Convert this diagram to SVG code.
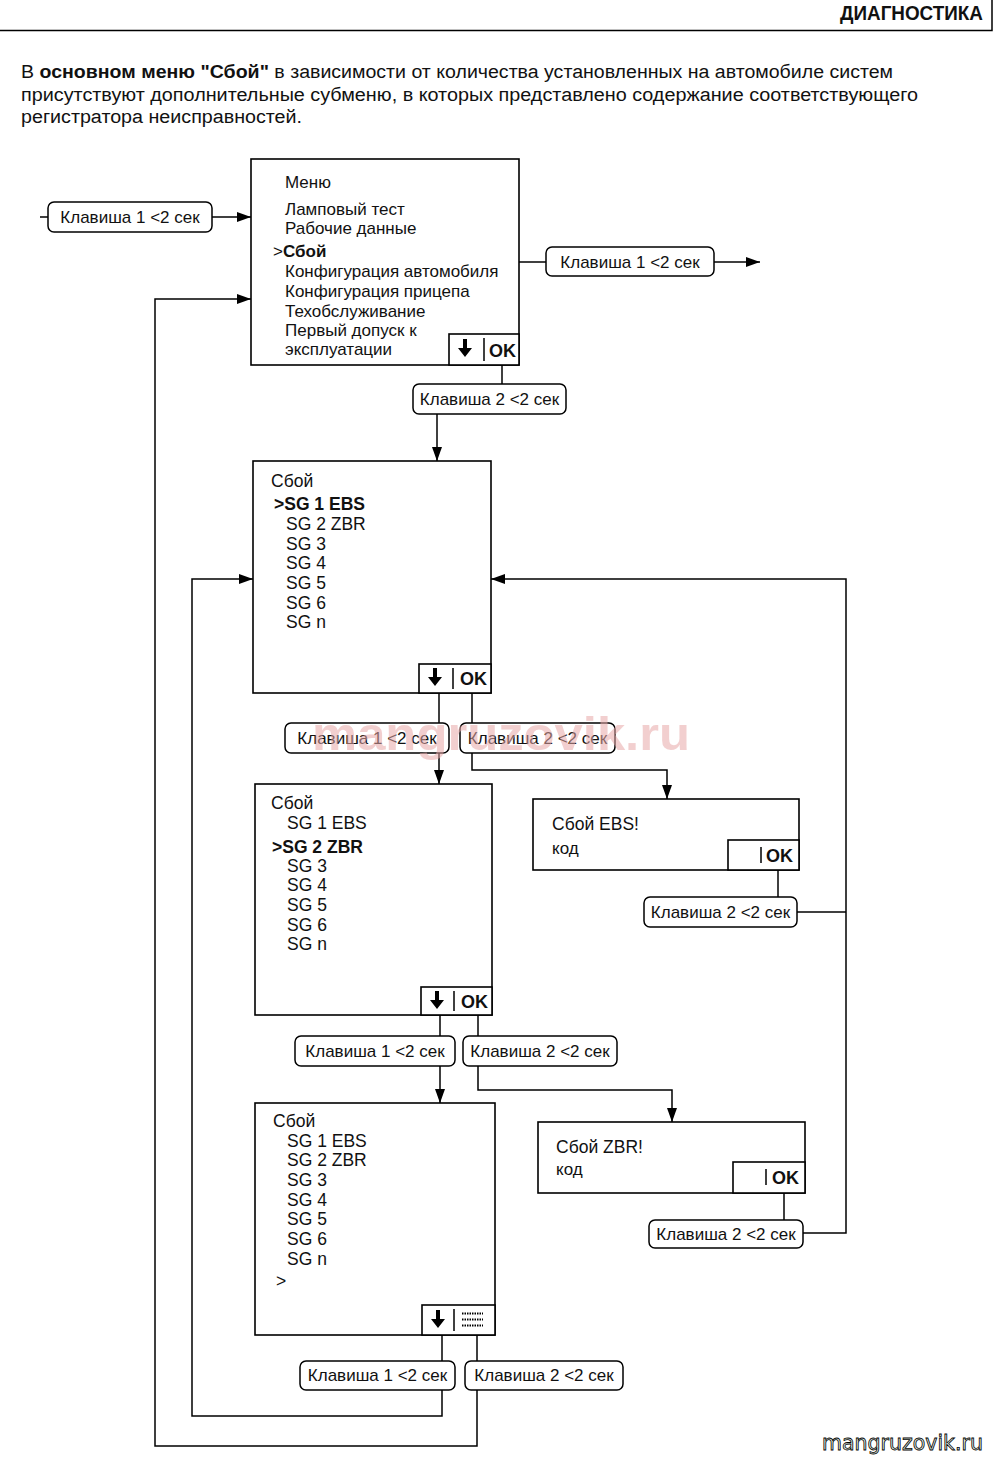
<svg xmlns="http://www.w3.org/2000/svg" width="1000" height="1464" viewBox="0 0 1000 1464">
<defs>
<marker id="ah" markerUnits="userSpaceOnUse" markerWidth="14" markerHeight="10" refX="14" refY="5" orient="auto">
<path d="M0,0 L14,5 L0,10 z" fill="#000"/>
</marker>
</defs>
<style>
text{font-family:"Liberation Sans",Arial,sans-serif;fill:#111}
.box{fill:#fff;stroke:#000;stroke-width:1.6}
.btn{fill:#fff;stroke:#000;stroke-width:1.5}
.bt{font-size:17px;text-anchor:middle}
.m{font-size:17px}
.sg{font-size:17.5px}
.b{font-weight:bold}
.ok{font-size:18px;font-weight:bold}
.ln{fill:none;stroke:#000;stroke-width:1.5}
.arw{fill:none;stroke:#000;stroke-width:1.5;marker-end:url(#ah)}
.ico{fill:#000}
</style>
<rect width="1000" height="1464" fill="#fff"/>

<g id="header">
<path d="M0,30.5 H992 V0" class="ln" stroke-width="2"/>
<text x="840" y="20" font-size="20" font-weight="bold" textLength="143" lengthAdjust="spacingAndGlyphs">ДИАГНОСТИКА</text>
</g>

<g id="intro" font-size="18">
<text x="21" y="78" font-size="18" textLength="872" lengthAdjust="spacingAndGlyphs">В <tspan font-weight="bold">основном меню "Сбой"</tspan> в зависимости от количества установленных на автомобиле систем</text>
<text x="21" y="101" font-size="18" textLength="897" lengthAdjust="spacingAndGlyphs">присутствуют дополнительные субменю, в которых представлено содержание соответствующего</text>
<text x="21" y="123" font-size="18" textLength="281" lengthAdjust="spacingAndGlyphs">регистратора неисправностей.</text>
</g>

<g id="connectors">
<path class="ln" d="M40,217 H48"/>
<path class="arw" d="M212,217 H251"/>
<path class="ln" d="M519,262 H546"/>
<path class="arw" d="M714,262 H760"/>
<path class="ln" d="M502,365 V384"/>
<path class="arw" d="M437,414 V461"/>
<path class="ln" d="M439,693 V723"/>
<path class="arw" d="M439,753 V784"/>
<path class="ln" d="M472,693 V723"/>
<path class="arw" d="M472,753 V770 H667 V799"/>
<path class="ln" d="M778,870 V897"/>
<path class="ln" d="M797,912 H846"/>
<path class="ln" d="M440,1015 V1036"/>
<path class="arw" d="M440,1066 V1103"/>
<path class="ln" d="M478,1015 V1036"/>
<path class="arw" d="M478,1066 V1090 H672 V1122"/>
<path class="ln" d="M784,1193 V1220"/>
<path class="arw" d="M803,1233 H846 V579 H491"/>
<path class="ln" d="M442,1335 V1361"/>
<path class="arw" d="M442,1390 V1416 H192 V579 H253"/>
<path class="ln" d="M477,1335 V1361"/>
<path class="arw" d="M477,1390 V1446 H155 V299 H251"/>
</g>

<g id="btn-in">
<rect class="btn" x="48" y="202" width="164" height="30" rx="6"/>
<text class="bt" x="130" y="223">Клавиша 1 &lt;2 сек</text>
</g>

<g id="main-menu">
<rect class="box" x="251" y="159" width="268" height="206"/>
<text class="m" x="285" y="188">Меню</text>
<text class="m" x="285" y="215">Ламповый тест</text>
<text class="m" x="285" y="234">Рабочие данные</text>
<text class="m" x="273" y="257">&gt;<tspan class="b">Сбой</tspan></text>
<text class="m" x="285" y="277">Конфигурация автомобиля</text>
<text class="m" x="285" y="297">Конфигурация прицепа</text>
<text class="m" x="285" y="317">Техобслуживание</text>
<text class="m" x="285" y="336">Первый допуск к</text>
<text class="m" x="285" y="355">эксплуатации</text>
<rect class="box" x="449" y="334" width="70" height="31"/>
<path class="ico" d="M463,339 h4 v9 h5 l-7,9 l-7,-9 h5 z"/>
<path class="ln" d="M484,338 V361"/>
<text class="ok" x="489" y="357">OK</text>
</g>

<g id="btn-out">
<rect class="btn" x="546" y="247" width="168" height="29" rx="6"/>
<text class="bt" x="630" y="268">Клавиша 1 &lt;2 сек</text>
</g>

<g id="btn-main-2">
<rect class="btn" x="413" y="384" width="153" height="30" rx="6"/>
<text class="bt" x="489.5" y="405">Клавиша 2 &lt;2 сек</text>
</g>

<g id="sboi-1">
<rect class="box" x="253" y="461" width="238" height="232"/>
<text class="sg" x="271" y="487">Сбой</text>
<text class="sg b" x="274" y="510">&gt;SG 1 EBS</text>
<text class="sg" x="286" y="530">SG 2 ZBR</text>
<text class="sg" x="286" y="550">SG 3</text>
<text class="sg" x="286" y="569">SG 4</text>
<text class="sg" x="286" y="589">SG 5</text>
<text class="sg" x="286" y="609">SG 6</text>
<text class="sg" x="286" y="628">SG n</text>
<rect class="box" x="419" y="664" width="72" height="29"/>
<path class="ico" d="M433,668 h4 v9 h5 l-7,9 l-7,-9 h5 z"/>
<path class="ln" d="M453,668 V689"/>
<text class="ok" x="460" y="685">OK</text>
</g>

<g id="btn-s1-1">
<rect class="btn" x="285" y="723" width="164" height="30" rx="6"/>
<text class="bt" x="367" y="744">Клавиша 1 &lt;2 сек</text>
</g>
<g id="btn-s1-2">
<rect class="btn" x="460" y="723" width="155" height="30" rx="6"/>
<text class="bt" x="537.5" y="744">Клавиша 2 &lt;2 сек</text>
</g>

<g id="sboi-ebs">
<rect class="box" x="533" y="799" width="266" height="71"/>
<text class="sg" x="552" y="830">Сбой EBS!</text>
<text class="m" x="552" y="854">код</text>
<rect class="box" x="728" y="840" width="71" height="30"/>
<path class="ln" d="M761,847 V863" stroke-width="2"/>
<text class="ok" x="766" y="862">OK</text>
</g>
<g id="btn-ebs">
<rect class="btn" x="644" y="897" width="153" height="30" rx="6"/>
<text class="bt" x="720.5" y="918">Клавиша 2 &lt;2 сек</text>
</g>

<g id="sboi-2">
<rect class="box" x="255" y="784" width="237" height="231"/>
<text class="sg" x="271" y="809">Сбой</text>
<text class="sg" x="287" y="829">SG 1 EBS</text>
<text class="sg b" x="272" y="853">&gt;SG 2 ZBR</text>
<text class="sg" x="287" y="872">SG 3</text>
<text class="sg" x="287" y="891">SG 4</text>
<text class="sg" x="287" y="911">SG 5</text>
<text class="sg" x="287" y="931">SG 6</text>
<text class="sg" x="287" y="950">SG n</text>
<rect class="box" x="421" y="987" width="71" height="28"/>
<path class="ico" d="M435,991 h4 v9 h5 l-7,9 l-7,-9 h5 z"/>
<path class="ln" d="M454,991 V1011"/>
<text class="ok" x="461" y="1008">OK</text>
</g>

<g id="btn-s2-1">
<rect class="btn" x="295" y="1036" width="160" height="30" rx="6"/>
<text class="bt" x="375" y="1057">Клавиша 1 &lt;2 сек</text>
</g>
<g id="btn-s2-2">
<rect class="btn" x="463" y="1036" width="154" height="30" rx="6"/>
<text class="bt" x="540" y="1057">Клавиша 2 &lt;2 сек</text>
</g>

<g id="sboi-zbr">
<rect class="box" x="538" y="1122" width="267" height="71"/>
<text class="sg" x="556" y="1153">Сбой ZBR!</text>
<text class="m" x="556" y="1175">код</text>
<rect class="box" x="733" y="1162" width="72" height="31"/>
<path class="ln" d="M766,1169 V1185" stroke-width="2"/>
<text class="ok" x="772" y="1184">OK</text>
</g>
<g id="btn-zbr">
<rect class="btn" x="649" y="1220" width="154" height="28" rx="6"/>
<text class="bt" x="726" y="1240">Клавиша 2 &lt;2 сек</text>
</g>

<g id="sboi-3">
<rect class="box" x="255" y="1103" width="240" height="232"/>
<text class="sg" x="273" y="1127">Сбой</text>
<text class="sg" x="287" y="1147">SG 1 EBS</text>
<text class="sg" x="287" y="1166">SG 2 ZBR</text>
<text class="sg" x="287" y="1186">SG 3</text>
<text class="sg" x="287" y="1206">SG 4</text>
<text class="sg" x="287" y="1225">SG 5</text>
<text class="sg" x="287" y="1245">SG 6</text>
<text class="sg" x="287" y="1265">SG n</text>
<text class="sg" x="276" y="1287">&gt;</text>
<rect class="box" x="422" y="1305" width="73" height="30"/>
<path class="ico" d="M436,1310 h4 v9 h5 l-7,9 l-7,-9 h5 z"/>
<path class="ln" d="M454,1309 V1331" stroke-width="2"/>
<path d="M462,1313.5 H483 M462,1319.5 H483 M462,1325.5 H483" stroke="#000" stroke-width="2" stroke-dasharray="1.5 1"/>
</g>

<g id="btn-s3-1">
<rect class="btn" x="300" y="1361" width="155" height="29" rx="6"/>
<text class="bt" x="377.5" y="1381">Клавиша 1 &lt;2 сек</text>
</g>
<g id="btn-s3-2">
<rect class="btn" x="465" y="1361" width="158" height="29" rx="6"/>
<text class="bt" x="544" y="1381">Клавиша 2 &lt;2 сек</text>
</g>

<g id="watermarks">
<text x="312" y="750" font-size="46" font-weight="bold" style="fill:#e8a8a8;fill-opacity:0.55" textLength="378" lengthAdjust="spacingAndGlyphs">mangruzovik.ru</text>
<text x="822" y="1450" font-size="20.5" style="fill:#e6f4ea;font-family:'DejaVu Sans',sans-serif" stroke="#000" stroke-width="0.8">mangruzovik.ru</text>
</g>
</svg>
